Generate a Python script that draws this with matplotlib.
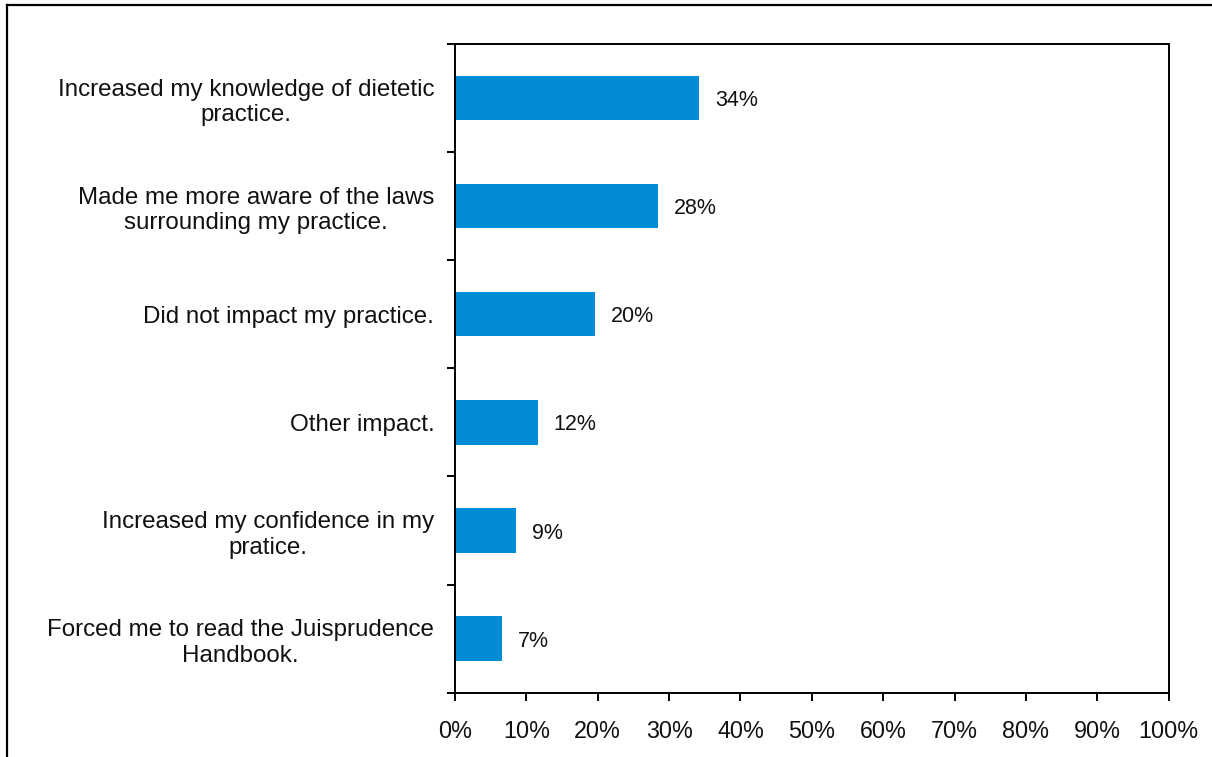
import matplotlib
matplotlib.use("Agg")
import matplotlib.pyplot as plt
from matplotlib.lines import Line2D
import numpy as np

plt.rcParams['font.family'] = ['Liberation Sans', 'DejaVu Sans']

categories = [
    "Increased my knowledge of dietetic\npractice.",
    "Made me more aware of the laws\nsurrounding my practice.",
    "Did not impact my practice.",
    "Other impact.",
    "Increased my confidence in my\npratice.",
    "Forced me to read the Juisprudence\nHandbook.",
]
values = [34.2, 28.4, 19.6, 11.6, 8.6, 6.6]
xticks = list(range(0, 101, 10))
xtick_labels = [f"{t}%" for t in xticks]

bar_color = "#038cd6"
fs_cat = 17.4
fs_tick = 16.8
fs_val = 15.5

fig = plt.figure(figsize=(12.12, 7.57), dpi=100)
ax = fig.add_axes([455 / 1212, 1 - 692.7 / 757, 713.7 / 1212, 648.7 / 757])

n = len(categories)
ypos = np.arange(n)
ax.barh(ypos, values, height=0.41, color=bar_color, zorder=2)
ax.set_xlim(0, 100)
ax.set_ylim(n - 0.5, -0.5)

for y, v in zip(ypos, values):
    ax.text(v + 2.2, y, f"{v:.0f}%", va="center_baseline", ha="left",
            fontsize=fs_val, color="#111111")

# boundaries between categories carry the tick marks, centers carry the labels
ax.set_yticks(np.arange(n + 1) - 0.5)
ax.set_yticklabels([])
ax.set_yticks(ypos, minor=True)
ax.set_yticklabels(categories, minor=True, fontsize=fs_cat, color="#111111")
for lbl in ax.get_yticklabels(minor=True):
    lbl.set_multialignment("center")
    lbl.set_linespacing(1.22)
ax.tick_params(axis="y", which="minor", length=0, pad=15)
ax.tick_params(axis="y", which="major", length=6, width=1.4, direction="out")

ax.set_xticks(xticks)
ax.set_xticklabels(xtick_labels, fontsize=fs_tick, color="#111111")
ax.tick_params(axis="x", length=6, width=1.4, direction="out", pad=13.5)

for s in ax.spines.values():
    s.set_linewidth(1.4)
    s.set_color("black")

# outer frame around the figure
fig.add_artist(Line2D([7 / 1212, 7 / 1212], [0, 1 - 5 / 757], transform=fig.transFigure,
                      color="black", linewidth=1.6))
fig.add_artist(Line2D([7 / 1212, 1], [1 - 5 / 757, 1 - 5 / 757], transform=fig.transFigure,
                      color="black", linewidth=1.6))

fig.savefig("out.png", dpi=100)
